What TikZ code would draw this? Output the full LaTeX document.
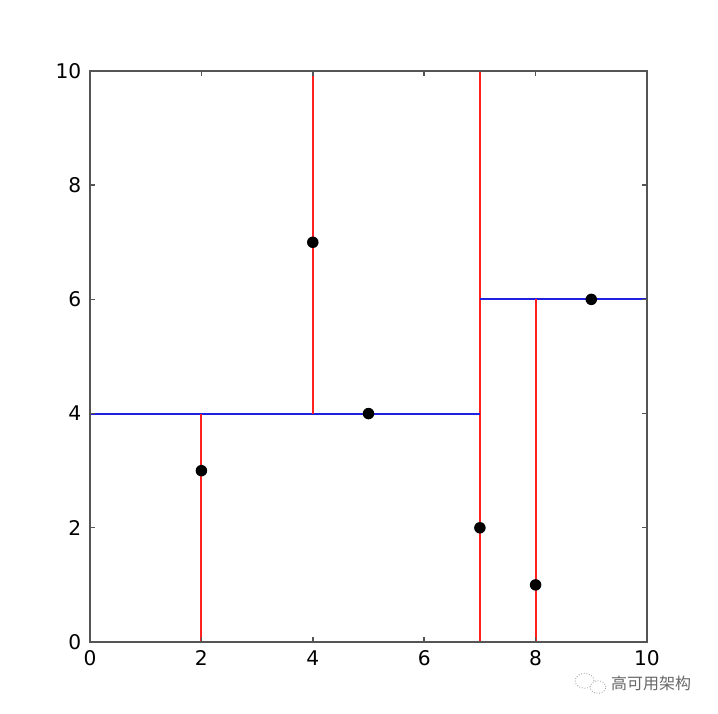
\documentclass[tikz,border=0pt]{standalone}
\usepackage{fontspec}
\setmainfont{DejaVu Sans}
\newfontfamily\cjk{Noto Sans CJK SC}
\definecolor{axisgray}{HTML}{555555}
\definecolor{splitred}{HTML}{FF2020}
\definecolor{splitblue}{HTML}{2020E0}
\definecolor{markgray}{HTML}{666666}
\tikzset{
	ticklabel/.style={inner sep=0pt, font=\fontsize{11.5}{12}\selectfont},
	xsplit/.style={draw=splitred, line width=1.1pt},
	ysplit/.style={draw=splitblue, line width=1.1pt},
	datapt/.style={shape=circle, fill=black, inner sep=0pt, minimum size=0.23cm},
	tickmark/.style={draw=axisgray, line width=0.8pt}
}
\begin{document}
\begin{tikzpicture}[x=1.114cm, y=1.142cm]
	\useasboundingbox (-1.6158,-1.2609) rectangle (11.2747,11.2434);
	% Splitting lines:
	\draw[xsplit] (7,0) -- (7,10);
	\draw[ysplit] (0,4) -- (7,4);
	\draw[xsplit] (2,0) -- (2,4);
	\draw[xsplit] (4,4) -- (4,10);
	\draw[ysplit] (7,6) -- (10,6);
	\draw[xsplit] (8,0) -- (8,6);
	% Ticks and frame:
	\foreach \t in {2,4,6,8}{
		\draw[tickmark] (\t,0) -- (\t,0.088);
		\draw[tickmark] (\t,10) -- (\t,9.912);
		\draw[tickmark] (0,\t) -- (0.09,\t);
		\draw[tickmark] (10,\t) -- (9.91,\t);
	}
	\draw[draw=axisgray, line width=1.1pt] (0,0) rectangle (10,10);
	% Data points:
	\node[datapt] (p1) at (2,3){};
	\node[datapt] (p2) at (4,7){};
	\node[datapt] (p3) at (5,4){};
	\node[datapt] (p4) at (7,2){};
	\node[datapt] (p5) at (8,1){};
	\node[datapt] (p6) at (9,6){};
	% Tick labels:
	\node[ticklabel, anchor=north] (x0) at (0,-0.14){0};
	\node[ticklabel, anchor=north] (x2) at (2,-0.14){2};
	\node[ticklabel, anchor=north] (x4) at (4,-0.14){4};
	\node[ticklabel, anchor=north] (x6) at (6,-0.14){6};
	\node[ticklabel, anchor=north] (x8) at (8,-0.14){8};
	\node[ticklabel, anchor=north] (x10) at (10,-0.14){10};
	\node[ticklabel, anchor=east] (y0) at (-0.15,0){0};
	\node[ticklabel, anchor=east] (y2) at (-0.15,2){2};
	\node[ticklabel, anchor=east] (y4) at (-0.15,4){4};
	\node[ticklabel, anchor=east] (y6) at (-0.15,6){6};
	\node[ticklabel, anchor=east] (y8) at (-0.15,8){8};
	\node[ticklabel, anchor=east] (y10) at (-0.15,10){10};
	% Watermark:
	\draw[draw=markgray!60, line width=0.5pt, densely dotted] (8.88,-0.68) ellipse (0.17 and 0.13);
	\draw[draw=markgray!60, line width=0.5pt, densely dotted, fill=white] (9.12,-0.79) ellipse (0.14 and 0.11);
	\node[anchor=west, inner sep=0pt, text=markgray, font=\cjk\fontsize{9.1}{10}\selectfont] (mark) at (9.35,-0.718){高可用架构};
\end{tikzpicture}
\end{document}
